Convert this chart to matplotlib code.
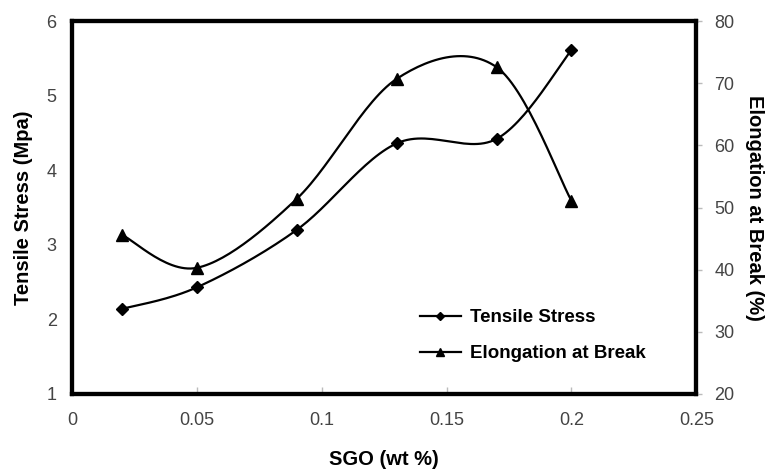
import matplotlib
matplotlib.use("Agg")
import matplotlib.pyplot as plt
import numpy as np

plt.rcParams['font.family'] = ['Liberation Sans', 'DejaVu Sans']

sgo = [0.02, 0.05, 0.09, 0.13, 0.17, 0.20]
tensile = [2.14, 2.43, 3.20, 4.36, 4.42, 5.61]
elongation = [45.6, 40.3, 51.4, 70.7, 72.6, 51.1]


def smooth(x, y, n=30):
    # catmull-rom style bezier, like spreadsheet "smoothed line"
    x = np.asarray(x, float)
    y = np.asarray(y, float)
    px = np.concatenate([[x[0]], x, [x[-1]]])
    py = np.concatenate([[y[0]], y, [y[-1]]])
    xs, ys = [], []
    t = np.linspace(0, 1, n)
    for i in range(1, len(px) - 2):
        p0 = np.array([px[i], py[i]])
        p3 = np.array([px[i + 1], py[i + 1]])
        c1 = p0 + (p3 - np.array([px[i - 1], py[i - 1]])) / 6
        c2 = p3 - (np.array([px[i + 2], py[i + 2]]) - p0) / 6
        pts = ((1 - t) ** 3)[:, None] * p0 + (3 * (1 - t) ** 2 * t)[:, None] * c1 \
            + (3 * (1 - t) * t ** 2)[:, None] * c2 + (t ** 3)[:, None] * p3
        xs.extend(pts[:, 0])
        ys.extend(pts[:, 1])
    return xs, ys


fig = plt.figure(figsize=(7.66, 4.69), dpi=100)
ax = fig.add_axes([0.094, 0.160, 0.815, 0.795])
ax2 = ax.twinx()

sx, sy = smooth(sgo, tensile)
ax.plot(sx, sy, color='black', lw=1.6)
ax.plot(sgo, tensile, 'D', color='black', ms=6)
ex, ey = smooth(sgo, elongation)
ax2.plot(ex, ey, color='black', lw=1.6)
ax2.plot(sgo, elongation, '^', color='black', ms=8)

# legend proxies
ax.plot([], [], '-D', color='black', ms=4, lw=1.6, label='Tensile Stress')
ax.plot([], [], '-^', color='black', ms=6, lw=1.6, label='Elongation at Break')
h, l = ax.get_legend_handles_labels()
ax.legend(h[-2:], l[-2:], loc='lower left', bbox_to_anchor=(0.53, 0.04), frameon=False,
          prop={'weight': 'bold', 'size': 13.5}, handlelength=2.2, handletextpad=0.5,
          labelspacing=1.0)

ax.set_xlim(0, 0.25)
ax.set_ylim(1, 6)
ax2.set_ylim(20, 80)
ax.set_xticks([0, 0.05, 0.1, 0.15, 0.2, 0.25])
ax.set_xticklabels(['0', '0.05', '0.1', '0.15', '0.2', '0.25'])
ax.set_yticks([1, 2, 3, 4, 5, 6])
ax2.set_yticks([20, 30, 40, 50, 60, 70, 80])

for a in (ax, ax2):
    for s in a.spines.values():
        s.set_linewidth(3)
ax.tick_params(axis='x', direction='in', length=5, width=1, color='#bbbbbb', labelsize=13,
               labelcolor='#444444', pad=13)
ax.tick_params(axis='y', length=0, labelsize=13, labelcolor='#444444', pad=11)
ax2.tick_params(axis='y', direction='out', length=4, width=1, color='#bbbbbb', labelsize=13,
                labelcolor='#444444', pad=9)

ax.set_xlabel('SGO (wt %)', fontsize=14.5, fontweight='bold', labelpad=15)
ax.set_ylabel('Tensile Stress (Mpa)', fontsize=14.5, fontweight='bold', labelpad=10)
ax2.set_ylabel('Elongation at Break (%)', fontsize=14.5, fontweight='bold', rotation=270, labelpad=21)

fig.savefig('out.png', dpi=100)
